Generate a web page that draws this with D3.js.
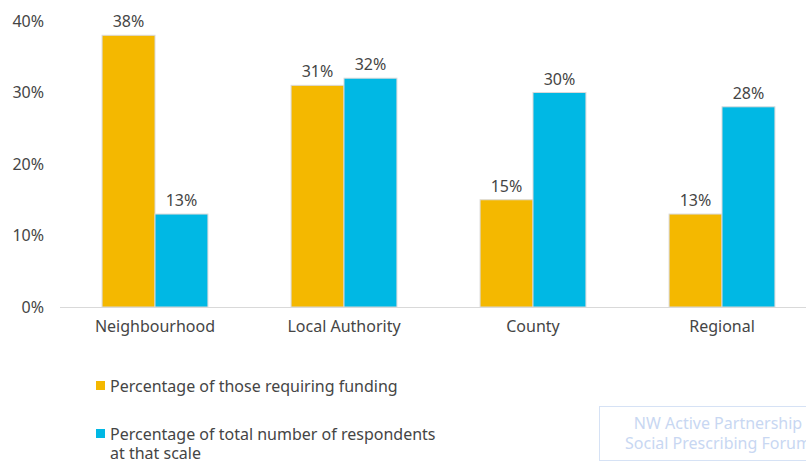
<!DOCTYPE html>
<html>
<head>
<meta charset="utf-8">
<script src="https://cdn.jsdelivr.net/npm/d3@7"></script>
<style>
  body { margin: 0; background: #fff; }
  svg { display: block; font-family: "Noto Sans", sans-serif; }
</style>
</head>
<body>
<div id="chart"></div>
<script>
// Data
const categories = ["Neighbourhood", "Local Authority", "County", "Regional"];
const seriesNames = [
    "Percentage of those requiring funding",
    "Percentage of total number of respondents at that scale"
];
const fundingValues = [38, 31, 15, 13];
const respondentValues = [13, 32, 30, 28];
const yTicks = [0, 10, 20, 30, 40];

const colors = ["#f4b800", "#00b8e4"];
const textColor = "#454545";
const width = 806, height = 462;

const svg = d3.select("#chart").append("svg")
    .attr("width", width)
    .attr("height", height);

// Scales - the plot runs a little past the right edge, as in the original
const xScale = d3.scaleBand()
    .domain(categories)
    .range([60.5, 816.5])
    .paddingInner(0.44)
    .paddingOuter(0.22);

const seriesScale = d3.scaleBand()
    .domain([0, 1])
    .range([0, xScale.bandwidth()]);

const yScale = d3.scaleLinear()
    .domain([0, 40])
    .range([307, 21]);

const plotData = categories.map((c, i) => ({
    category: c,
    values: [fundingValues[i], respondentValues[i]]
}));

// Y axis (labels only)
const yAxis = svg.append("g")
    .attr("transform", "translate(44,0)")
    .call(d3.axisLeft(yScale).tickValues(yTicks).tickSize(0).tickPadding(0).tickFormat(d => d + "%"));
yAxis.select(".domain").remove();
yAxis.selectAll("text")
    .attr("fill", textColor)
    .style("font-size", "16px")
    .style("font-family", "Noto Sans, sans-serif");

// Bars
const groups = svg.selectAll(".cat")
    .data(plotData)
    .join("g")
    .attr("class", "cat")
    .attr("transform", d => `translate(${xScale(d.category)},0)`);

groups.selectAll("rect")
    .data(d => d.values.map((v, s) => ({ v, s })))
    .join("rect")
    .attr("x", d => seriesScale(d.s))
    .attr("y", d => yScale(d.v))
    .attr("width", seriesScale.bandwidth())
    .attr("height", d => yScale(0) - yScale(d.v))
    .attr("fill", d => colors[d.s])
    .attr("stroke", "#d9d9d9")
    .attr("stroke-width", 1);

groups.selectAll(".value-label")
    .data(d => d.values.map((v, s) => ({ v, s })))
    .join("text")
    .attr("class", "value-label")
    .attr("x", d => seriesScale(d.s) + seriesScale.bandwidth() / 2)
    .attr("y", d => yScale(d.v) - 8)
    .attr("text-anchor", "middle")
    .attr("fill", textColor)
    .style("font-size", "16px")
    .text(d => d.v + "%");

// X axis
const xAxis = svg.append("g")
    .attr("transform", `translate(0,${yScale(0)})`)
    .call(d3.axisBottom(xScale).tickSize(0).tickPadding(14));
xAxis.select(".domain")
    .attr("d", `M60,0.5H${width}`)
    .attr("stroke", "#d9d9d9");
xAxis.selectAll("text")
    .attr("fill", textColor)
    .style("font-size", "16px")
    .style("font-family", "Noto Sans, sans-serif");

// Legend
const legend = svg.append("g").attr("transform", "translate(96,0)");
const legendRows = [
    { lines: [seriesNames[0]], y: 381 },
    { lines: ["Percentage of total number of respondents", "at that scale"], y: 429 }
];
legendRows.forEach((row, i) => {
    legend.append("rect")
        .attr("x", 0)
        .attr("y", row.y)
        .attr("width", 9)
        .attr("height", 9)
        .attr("fill", colors[i]);
    const t = legend.append("text")
        .attr("fill", textColor)
        .style("font-size", "16px");
    row.lines.forEach((line, j) => {
        t.append("tspan")
            .attr("x", 14)
            .attr("y", row.y + 11 + j * 19)
            .text(line);
    });
});

// Watermark
svg.append("rect")
    .attr("x", 599.5)
    .attr("y", 406.5)
    .attr("width", 220)
    .attr("height", 54)
    .attr("fill", "none")
    .attr("stroke", "#d6e2f5");
svg.append("text")
    .attr("x", 718)
    .attr("y", 429)
    .attr("text-anchor", "middle")
    .attr("fill", "#c8d7f2")
    .style("font-size", "16px")
    .text("NW Active Partnership");
svg.append("text")
    .attr("x", 718)
    .attr("y", 449)
    .attr("text-anchor", "middle")
    .attr("fill", "#c8d7f2")
    .style("font-size", "16px")
    .text("Social Prescribing Forum");
</script>
</body>
</html>
